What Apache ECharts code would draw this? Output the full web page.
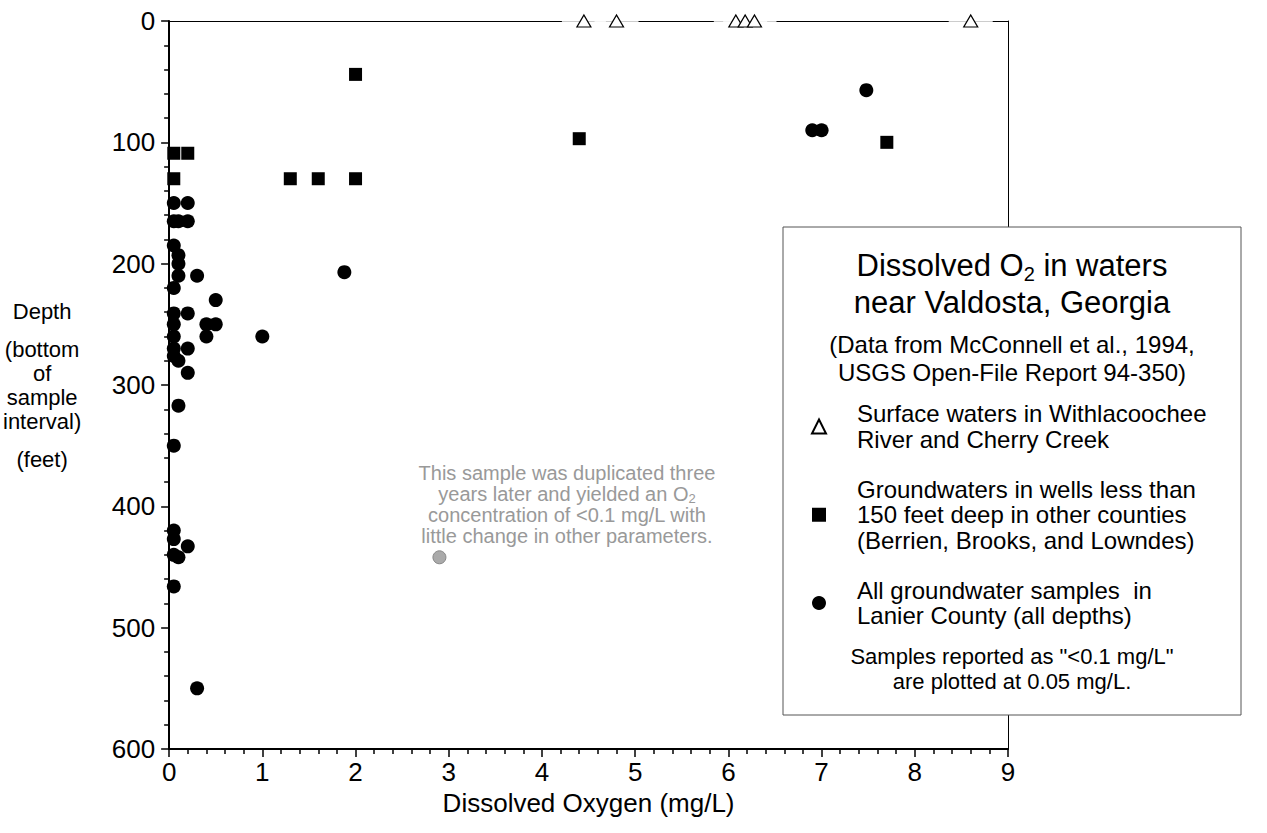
<!DOCTYPE html>
<html><head><meta charset="utf-8">
<script src="https://cdn.jsdelivr.net/npm/echarts@6/dist/echarts.min.js"></script>
<style>html,body{margin:0;padding:0;background:#fff}#c{width:1267px;height:833px}</style>
</head><body><div id="c"></div>
<script>
// Dissolved oxygen (mg/L) vs depth (feet)
const surfaceWaters = [[4.45,0],[4.8,0],[6.08,0],[6.18,0],[6.28,0],[8.6,0]];
const shallowWells = [[2.0,44],[4.4,97],[7.7,100],[0.05,109],[0.2,109],[0.05,130],[1.3,130],[1.6,130],[2.0,130]];
const lanierCounty = [
  [0.05,150],[0.2,150],
  [0.05,165],[0.1,165],[0.2,165],
  [0.05,185],[0.1,193],[0.1,200],
  [0.1,210],[0.3,210],
  [0.05,220],[0.5,230],
  [0.05,241],[0.2,241],
  [0.05,250],[0.4,250],[0.5,250],
  [0.05,260],[0.4,260],[1.0,260],
  [0.05,270],[0.2,270],[0.05,276],[0.1,280],[0.2,290],
  [0.1,317],[0.05,350],
  [0.05,420],[0.05,427],[0.2,433],[0.05,440],[0.1,442],[0.05,466],
  [0.3,550],[1.88,207],
  [7.48,57],[6.9,90],[7.0,90]
];
const duplicatedSample = [[2.9,442]];
const xRange = [0, 9];
const yRange = [0, 600];
const xStep = 1, yStep = 100;

const FONT = 'Liberation Sans, Arial, sans-serif';
const nameSurface = 'Surface waters in Withlacoochee\nRiver and Cherry Creek';
const nameWells = 'Groundwaters in wells less than\n150 feet deep in other counties\n(Berrien, Brooks, and Lowndes)';
const nameLanier = 'All groundwater samples  in\nLanier County (all depths)';

const chart = echarts.init(document.getElementById('c'), null, {renderer: 'svg'});
chart.setOption({
  animation: false,
  textStyle: {fontFamily: FONT, color: '#000'},
  grid: {left: 169, right: 259, top: 21, bottom: 84},
  xAxis: [{
    type: 'value', min: xRange[0], max: xRange[1], interval: xStep, position: 'bottom',
    name: 'Dissolved Oxygen (mg/L)', nameLocation: 'middle', nameGap: 35,
    nameTextStyle: {fontSize: 26, color: '#000', fontFamily: FONT},
    axisLine: {show: true, onZero: false, lineStyle: {color: '#000', width: 2}},
    axisTick: {show: true, length: 8, lineStyle: {color: '#000', width: 1.5}},
    minorTick: {show: true, splitNumber: 5, length: 5, lineStyle: {color: '#000', width: 1.5}},
    axisLabel: {fontSize: 26, color: '#000', margin: 10, fontFamily: FONT},
    splitLine: {show: false}
  }, {
    type: 'value', min: xRange[0], max: xRange[1], position: 'top',
    axisLine: {show: true, onZero: false, lineStyle: {color: '#000', width: 1}},
    axisTick: {show: false}, axisLabel: {show: false}, splitLine: {show: false}
  }],
  yAxis: [{
    type: 'value', min: yRange[0], max: yRange[1], interval: yStep, inverse: true, position: 'left',
    name: '{a|Depth}\n{b|(bottom}\n{b|of}\n{b|sample}\n{b|interval)}\n{a|(feet)}',
    nameLocation: 'middle', nameRotate: 0, nameGap: 127,
    nameTextStyle: {align: 'center', verticalAlign: 'middle', fontSize: 22, color: '#000', fontFamily: FONT,
      rich: {a: {fontSize: 22, lineHeight: 52, fontFamily: FONT}, b: {fontSize: 22, lineHeight: 24, fontFamily: FONT}}},
    axisLine: {show: true, onZero: false, lineStyle: {color: '#000', width: 2}},
    axisTick: {show: true, length: 8, lineStyle: {color: '#000', width: 1.5}},
    minorTick: {show: true, splitNumber: 5, length: 5, lineStyle: {color: '#000', width: 1.5}},
    axisLabel: {fontSize: 26, color: '#000', margin: 14, fontFamily: FONT},
    splitLine: {show: false}
  }, {
    type: 'value', min: yRange[0], max: yRange[1], inverse: true, position: 'right',
    axisLine: {show: true, onZero: false, lineStyle: {color: '#000', width: 1}},
    axisTick: {show: false}, axisLabel: {show: false}, splitLine: {show: false}
  }],
  legend: {
    orient: 'vertical', left: 806, top: 396, z: 10,
    itemWidth: 14, itemHeight: 14, itemGap: 24.5,
    selectedMode: false,
    textStyle: {fontSize: 24, color: '#000', fontFamily: FONT, lineHeight: 25.5, padding: [0, 0, 0, 26]},
    data: [nameSurface, nameWells, nameLanier]
  },
  graphic: [
    {type: 'rect', z: 5, shape: {x: 783, y: 227, width: 458, height: 488},
     style: {fill: '#fff', stroke: '#555', lineWidth: 1}},
    {type: 'text', z: 6, style: {x: 1012, y: 265, textAlign: 'center', textVerticalAlign: 'middle',
      text: '{a|Dissolved O}{s|2}{a| in waters}', fill: '#000',
      rich: {a: {fontSize: 31, fontFamily: FONT}, s: {fontSize: 20, fontFamily: FONT, padding: [18, 0, 0, 0]}}}},
    {type: 'text', z: 6, style: {x: 1012, y: 302, textAlign: 'center', textVerticalAlign: 'middle',
      text: 'near Valdosta, Georgia', font: '31px ' + FONT, fill: '#000'}},
    {type: 'text', z: 6, style: {x: 1012, y: 358, textAlign: 'center', textVerticalAlign: 'middle',
      text: '(Data from McConnell et al., 1994,\nUSGS Open-File Report 94-350)', font: '24px ' + FONT, lineHeight: 28, fill: '#000'}},
    {type: 'text', z: 6, style: {x: 1012, y: 669, textAlign: 'center', textVerticalAlign: 'middle',
      text: 'Samples reported as "<0.1 mg/L"\nare plotted at 0.05 mg/L.', font: '22px ' + FONT, lineHeight: 25, fill: '#000'}},
    {type: 'text', z: 6, style: {x: 567, y: 504, textAlign: 'center', textVerticalAlign: 'middle',
      text: '{g|This sample was duplicated three}\n{g|years later and yielded an O}{t|2}\n{g|concentration of <0.1 mg/L with}\n{g|little change in other parameters.}',
      fill: '#999',
      rich: {g: {fontSize: 20, lineHeight: 21, fontFamily: FONT, color: '#999'}, t: {fontSize: 13, lineHeight: 21, fontFamily: FONT, color: '#999', padding: [10, 0, 0, 0]}}}}
  ],
  series: [
    {name: 'gaps', type: 'scatter', data: surfaceWaters, symbol: 'rect', symbolSize: [44, 5],
     itemStyle: {color: '#fff'}, silent: true, clip: false, z: 2, legendHoverLink: false},
    {name: nameSurface, type: 'scatter', data: surfaceWaters, symbol: 'triangle', symbolSize: [14, 12],
     itemStyle: {color: '#fff', borderColor: '#000', borderWidth: 1.2, opacity: 1}, clip: false, z: 3},
    {name: nameWells, type: 'scatter', data: shallowWells, symbol: 'rect', symbolSize: 13,
     itemStyle: {color: '#000', opacity: 1}, z: 3},
    {name: nameLanier, type: 'scatter', data: lanierCounty, symbol: 'circle', symbolSize: 14,
     itemStyle: {color: '#000', opacity: 1}, z: 3},
    {name: 'duplicated', type: 'scatter', data: duplicatedSample, symbol: 'circle', symbolSize: 13,
     itemStyle: {color: '#aaa', borderColor: '#888', borderWidth: 1, opacity: 1}, z: 3}
  ]
});
</script></body></html>
